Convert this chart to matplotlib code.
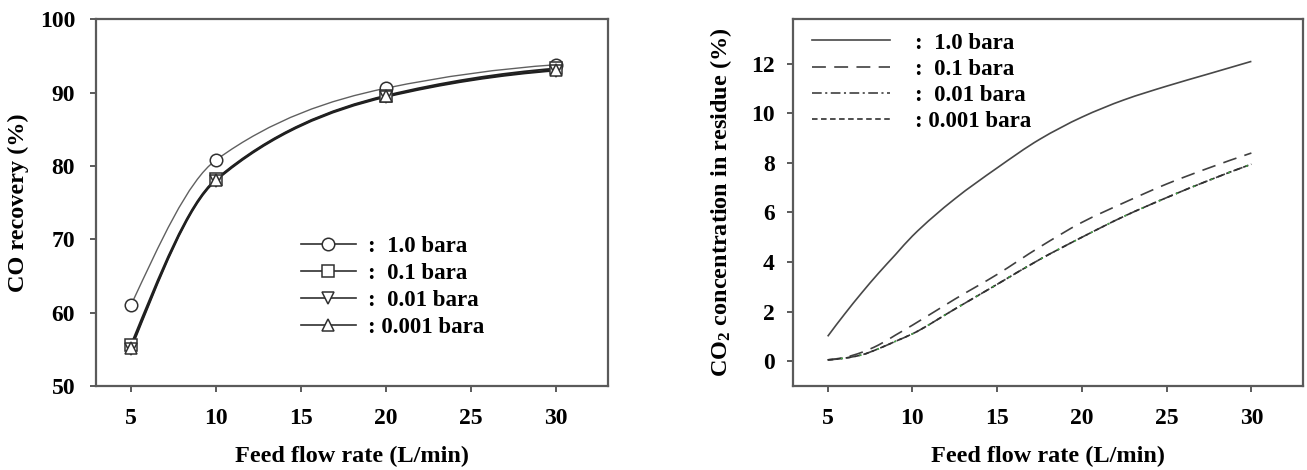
import numpy as np
import matplotlib
matplotlib.use("Agg")
import matplotlib.pyplot as plt
from matplotlib.path import Path
from matplotlib.patches import PathPatch
from matplotlib.lines import Line2D

plt.rcParams['font.family'] = ['Liberation Serif', 'DejaVu Serif']
plt.rcParams['font.weight'] = 'bold'
plt.rcParams['mathtext.fontset'] = 'custom'
plt.rcParams['mathtext.rm'] = 'Liberation Serif:bold'
plt.rcParams['mathtext.bf'] = 'Liberation Serif:bold'
plt.rcParams['mathtext.it'] = 'Liberation Serif:bold'
plt.rcParams['mathtext.default'] = 'bf'
plt.rcParams['lines.scale_dashes'] = False

# --- left panel: CO recovery ---
flow = [5, 10, 20, 30]
rec_10 = [61.0, 80.8, 90.6, 93.8]
rec_01 = [55.6, 78.2, 89.6, 93.3]
rec_001 = [55.0, 78.0, 89.4, 93.0]
rec_0001 = [55.2, 78.1, 89.5, 93.1]

# --- right panel: CO2 in residue ---
flow_r = [5, 6, 7, 8, 9, 10, 12.5, 15, 17.5, 20, 22.5, 25, 27.5, 30]
co2_10 = [1.0, 1.9, 2.75, 3.55, 4.3, 5.05, 6.55, 7.8, 8.95, 9.85, 10.55, 11.1, 11.6, 12.1]
co2_01 = [0.05, 0.15, 0.35, 0.65, 1.05, 1.45, 2.5, 3.5, 4.6, 5.6, 6.4, 7.15, 7.8, 8.4]
co2_001 = [0.05, 0.12, 0.25, 0.5, 0.8, 1.1, 2.1, 3.1, 4.1, 5.0, 5.85, 6.6, 7.3, 7.95]
co2_0001 = [0.05, 0.12, 0.25, 0.5, 0.8, 1.1, 2.1, 3.1, 4.1, 5.0, 5.85, 6.6, 7.3, 7.95]

labels = [':  1.0 bara', ':  0.1 bara', ':  0.01 bara', ': 0.001 bara']
x_ticks = [5, 10, 15, 20, 25, 30]


def smooth_path(x, y):
    # monotone cubic (pchip-like) segments drawn as bezier curves
    x = np.asarray(x, float)
    y = np.asarray(y, float)
    h = np.diff(x)
    d = np.diff(y) / h
    m = np.zeros_like(y)
    for i in range(1, len(x) - 1):
        if d[i - 1] * d[i] <= 0:
            m[i] = 0.0
        else:
            w1 = 2 * h[i] + h[i - 1]
            w2 = h[i] + 2 * h[i - 1]
            m[i] = (w1 + w2) / (w1 / d[i - 1] + w2 / d[i])
    m0 = ((2 * h[0] + h[1]) * d[0] - h[0] * d[1]) / (h[0] + h[1])
    m[0] = min(max(m0, 0.5 * d[0]), 3 * d[0]) if d[0] > 0 else m0
    mn = ((2 * h[-1] + h[-2]) * d[-1] - h[-1] * d[-2]) / (h[-1] + h[-2])
    m[-1] = max(mn, 0.5 * d[-1]) if d[-1] > 0 else mn
    verts = [(x[0], y[0])]
    codes = [Path.MOVETO]
    for i in range(len(h)):
        verts += [(x[i] + h[i] / 3, y[i] + m[i] * h[i] / 3),
                  (x[i + 1] - h[i] / 3, y[i + 1] - m[i + 1] * h[i] / 3),
                  (x[i + 1], y[i + 1])]
        codes += [Path.CURVE4] * 3
    return Path(verts, codes)


def style_axes(ax):
    for s in ax.spines.values():
        s.set_color('#5a5a5a')
        s.set_linewidth(1.6)
    ax.tick_params(direction='out', length=4, width=1.4, color='#5a5a5a',
                   labelsize=17, pad=11)
    ax.tick_params(axis='x', pad=12)
    ax.set_xlim(2.95, 33.05)
    ax.set_xticks(x_ticks)
    ax.set_xlabel('Feed flow rate (L/min)', fontsize=17.5, fontweight='bold')
    ax.xaxis.set_label_coords(0.5, -0.165)


fig = plt.figure(figsize=(13.07, 4.70), dpi=100)
ax1 = fig.add_axes([0.0735, 0.179, 0.3917, 0.780])
ax2 = fig.add_axes([0.6067, 0.179, 0.3903, 0.780])

# left
series_l = [rec_10, rec_01, rec_001, rec_0001]
markers = ['o', 's', 'v', '^']
colors_l = ['#606060', '#202020', '#202020', '#202020']
widths_l = [1.0, 1.3, 1.3, 1.3]
handles = []
for vals, mk, c, lw, lab in zip(series_l, markers, colors_l, widths_l, labels):
    ax1.add_patch(PathPatch(smooth_path(flow, vals), fill=False, edgecolor=c, lw=lw))
    ax1.plot(flow, vals, linestyle='none', marker=mk, markersize=9,
             markerfacecolor='white', markeredgecolor='#303030', markeredgewidth=1.1)
    handles.append(Line2D([], [], color='#303030', lw=1.2, marker=mk, markersize=9,
                          markerfacecolor='white', markeredgecolor='#303030',
                          markeredgewidth=1.1, label=lab))
style_axes(ax1)
ax1.set_ylim(50, 100)
ax1.set_yticks([50, 60, 70, 80, 90, 100])
ax1.set_ylabel('CO recovery (%)', fontsize=17.5, fontweight='bold')
ax1.yaxis.set_label_coords(-0.131, 0.5)
ax1.legend(handles=handles, loc='upper left', bbox_to_anchor=(0.40, 0.41),
           frameon=False, fontsize=16.5, handlelength=2.4, handletextpad=0.55,
           labelspacing=0.26, borderpad=0, borderaxespad=0)

# right
series_r = [co2_10, co2_01, co2_001, co2_0001]
styles_r = ['-', (0, (10, 6)), (0, (7, 2.5, 1.5, 2.5)), (0, (4, 2.5))]
colors_r = ['#484848', '#404040', '#404040', '#303030']
handles_r = []
for vals, ls, c, lab in zip(series_r, styles_r, colors_r, labels):
    ax2.add_patch(PathPatch(smooth_path(flow_r, vals), fill=False, edgecolor=c,
                            lw=1.2, linestyle=ls))
    handles_r.append(Line2D([], [], color=c, lw=1.2, linestyle=ls, label=lab))
# green dots of the dash-dot line
ax2.add_patch(PathPatch(smooth_path(flow_r, co2_001), fill=False, edgecolor='#44aa44',
                        lw=1.0, linestyle=(4, (1.5, 12))))
style_axes(ax2)
ax2.set_ylim(-1.0, 13.8)
ax2.set_yticks([0, 2, 4, 6, 8, 10, 12])
ax2.tick_params(axis='y', pad=9)
ax2.set_ylabel(r'CO$_2$ concentration in residue (%)', fontsize=17.5, fontweight='bold')
ax2.yaxis.set_label_coords(-0.116, 0.5)
ax2.legend(handles=handles_r, loc='upper left', bbox_to_anchor=(0.038, 0.964),
           frameon=False, fontsize=16.5, handlelength=3.4, handletextpad=1.1,
           labelspacing=0.23, borderpad=0, borderaxespad=0)

fig.savefig('out.png', dpi=100)
